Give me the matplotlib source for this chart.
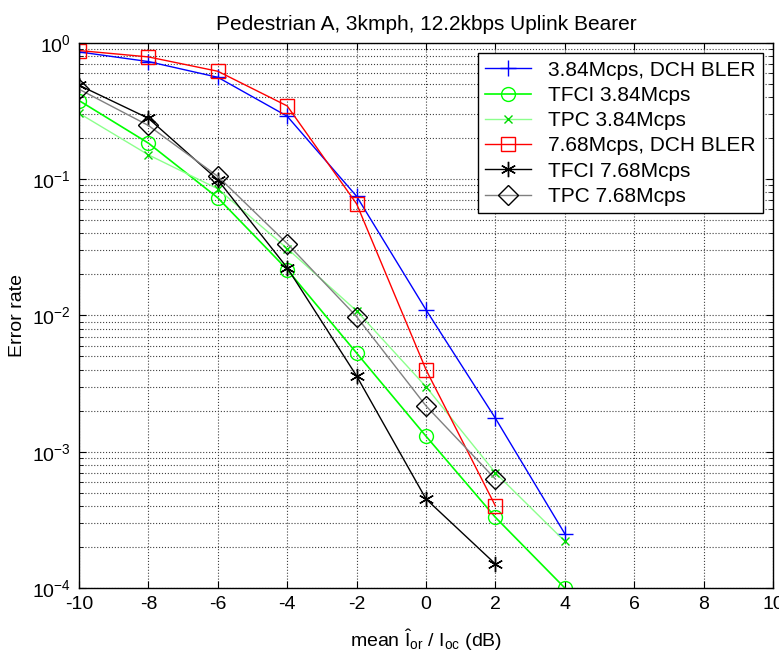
import numpy as np
import matplotlib
matplotlib.use("Agg")
import matplotlib.pyplot as plt
from matplotlib.ticker import LogLocator, MultipleLocator, NullFormatter

plt.rcParams['font.family'] = ['Liberation Sans', 'DejaVu Sans']
plt.rcParams['mathtext.fontset'] = 'custom'
plt.rcParams['mathtext.rm'] = 'Liberation Sans'
plt.rcParams['mathtext.it'] = 'Liberation Sans'
plt.rcParams['axes.unicode_minus'] = False

# mean Ior/Ioc (dB)
snr = [-10, -8, -6, -4, -2, 0, 2, 4]

dch_384 = [0.86, 0.73, 0.56, 0.29, 0.075, 0.011, 0.00176, 0.00025]
tfci_384 = [0.378, 0.184, 0.073, 0.0217, 0.0053, 0.0013, 0.00033, 0.0001]
tpc_384 = [0.305, 0.151, 0.085, 0.031, 0.0108, 0.0030, 0.00070, 0.00022]

snr_768 = [-10, -8, -6, -4, -2, 0, 2]
dch_768 = [0.88, 0.79, 0.62, 0.345, 0.066, 0.0040, 0.00040]
tfci_768 = [0.49, 0.28, 0.099, 0.0224, 0.0036, 0.00045, 0.00015]
tpc_768 = [0.458, 0.248, 0.105, 0.0337, 0.0098, 0.00217, 0.00063]

fig = plt.figure(figsize=(7.79, 6.61), dpi=100)
ax = fig.add_axes([0.1014, 0.1105, 0.8909, 0.8245])

ax.semilogy(snr, dch_384, color='b', marker='+', ms=11, mew=1, lw=1,
            label='3.84Mcps, DCH BLER')
ax.semilogy(snr, tfci_384, color=(0, 1, 0), marker='o', ms=10, mfc='none',
            mew=1, lw=1.2, label='TFCI 3.84Mcps')
ax.semilogy(snr, tpc_384, color=(0.55, 1, 0.55), marker='x', ms=6,
            mec=(0, 0.85, 0), mew=1, lw=1, label='TPC 3.84Mcps')
ax.semilogy(snr_768, dch_768, color='r', marker='s', ms=10, mfc='none',
            mew=1, lw=1, label='7.68Mcps, DCH BLER')
ax.semilogy(snr_768, tfci_768, color='k', marker=(6, 2, 0), ms=11, mew=1,
            lw=1, label='TFCI 7.68Mcps')
ax.semilogy(snr_768, tpc_768, color='0.5', marker='D', ms=10, mfc='none',
            mec='k', mew=1, lw=1, label='TPC 7.68Mcps')

ax.set_xlim(-10, 10)
ax.set_ylim(1e-4, 1)
ax.xaxis.set_major_locator(MultipleLocator(2))
ax.yaxis.set_major_locator(LogLocator(base=10, numticks=10))
ax.yaxis.set_minor_locator(LogLocator(base=10, subs=np.arange(2, 10), numticks=20))
ax.yaxis.set_minor_formatter(NullFormatter())

ax.grid(True, which='major', linestyle=':', color='0.25', lw=0.8)
ax.grid(True, which='minor', axis='y', linestyle=':', color='0.25', lw=0.8)
ax.tick_params(which='both', direction='in', top=True, right=True, labelsize=14)
ax.tick_params(which='major', length=5, pad=6)
ax.tick_params(which='minor', length=3)
for sp in ax.spines.values():
    sp.set_linewidth(1)

ax.set_title('Pedestrian A, 3kmph, 12.2kbps Uplink Bearer', fontsize=15, pad=9)
ax.set_xlabel(r'mean $\hat{\mathrm{I}}_{\mathrm{or}}$ / $\mathrm{I}_{\mathrm{oc}}$ (dB)',
              fontsize=14, labelpad=10)
ax.set_ylabel('Error rate', fontsize=14, labelpad=4)

leg = ax.legend(loc='upper right', fontsize=15, fancybox=False, edgecolor='k',
                framealpha=1, handlelength=2.2, handletextpad=0.8,
                labelspacing=0.3, borderpad=0.35, borderaxespad=0.5)
leg.get_frame().set_linewidth(1)

fig.savefig('out.png', dpi=100)
